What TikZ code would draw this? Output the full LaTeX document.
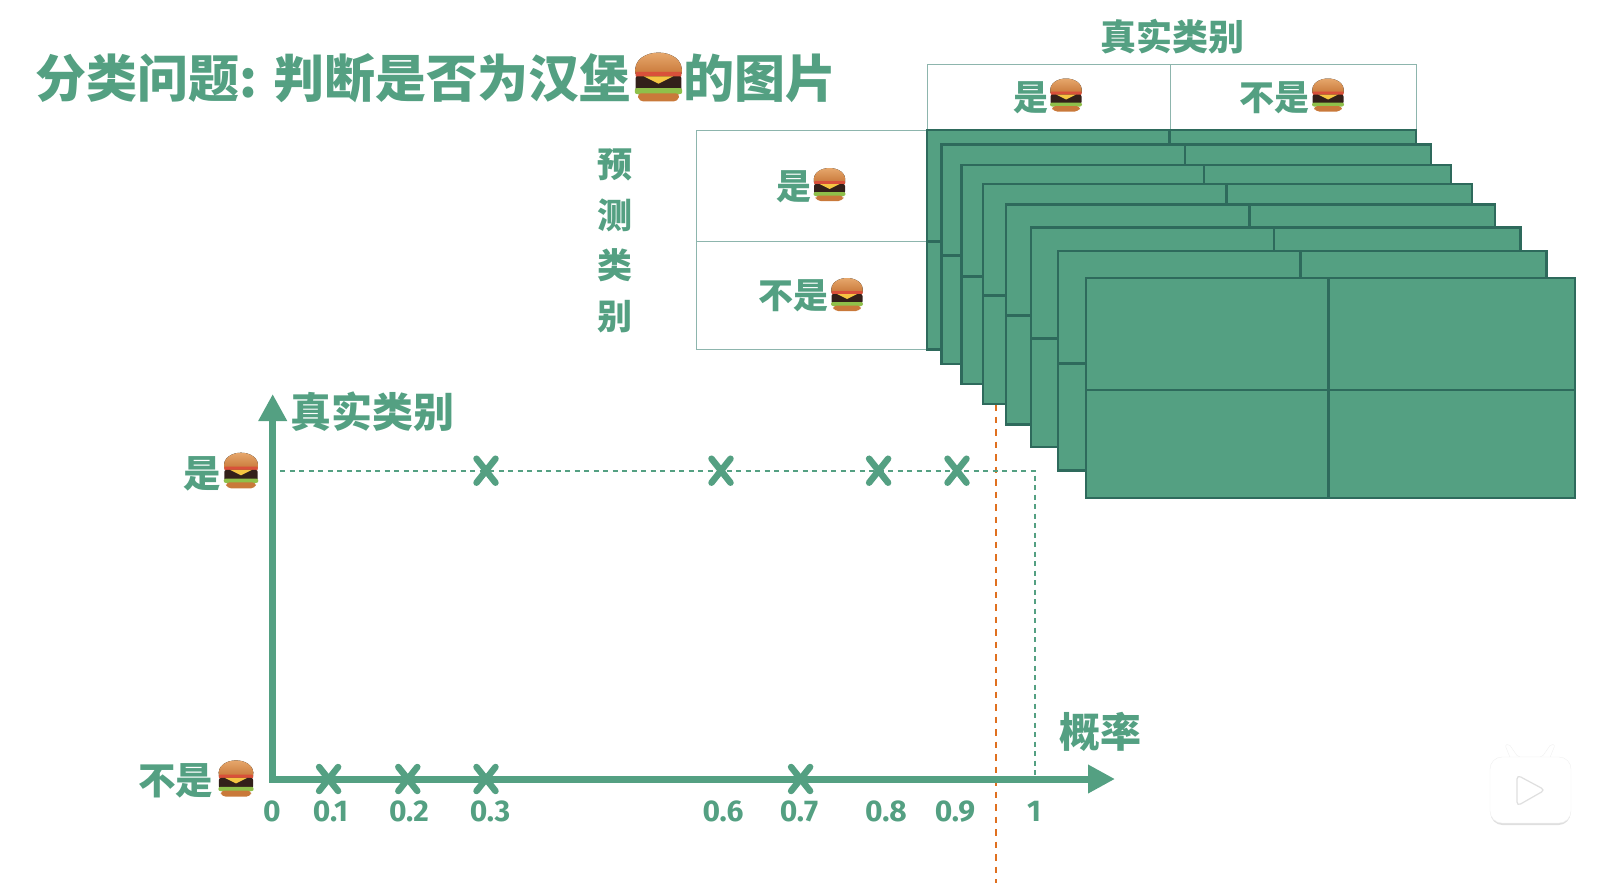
\documentclass[tikz,border=0pt]{standalone}
\usepackage{fontspec}
\setmainfont{Noto Sans CJK SC}
\newfontfamily\numfont{Fira Sans}
\usetikzlibrary{arrows.meta,positioning,calc}
\definecolor{leaf}{HTML}{54A082}
\definecolor{leafdark}{HTML}{2E6A5C}
\definecolor{gridline}{HTML}{8DB5AD}
\definecolor{cutline}{HTML}{E0701F}
\definecolor{buntop}{HTML}{E6A76C}
\definecolor{bunbase}{HTML}{C9793A}
\definecolor{tomato}{HTML}{D9503A}
\definecolor{patty}{HTML}{33201A}
\definecolor{cheese}{HTML}{F5C542}
\definecolor{salad}{HTML}{8FC04A}
\tikzset{
  title/.style={anchor=west, text=leaf, inner sep=0pt, font=\fontsize{51}{51}\selectfont\bfseries},
  head/.style={text=leaf, inner sep=0pt, font=\fontsize{36}{36}\selectfont\bfseries},
  sidehead/.style={text=leaf, inner sep=0pt, align=center, font=\fontsize{35}{50.5}\selectfont\bfseries},
  axishead/.style={text=leaf, inner sep=0pt, font=\fontsize{41}{41}\selectfont\bfseries},
  tag/.style={anchor=west, text=leaf, inner sep=0pt, font=\fontsize{35}{35}\selectfont\bfseries},
  bigtag/.style={tag, font=\fontsize{37.5}{37.5}\selectfont\bfseries},
  tick/.style={text=leaf, inner sep=0pt, font=\fontsize{30}{30}\selectfont\numfont\bfseries},
  cell/.style={draw=gridline, line width=1pt},
  panel/.style={draw=leafdark, fill=leaf, line width=2.6pt},
  panelline/.style={draw=leafdark, line width=2.6pt},
  axis/.style={draw=leaf, line width=7pt, -{Triangle[length=27pt,width=27pt]}},
  guide/.style={draw=leaf, line width=2pt, dash pattern=on 5pt off 4.5pt},
  cutoff/.style={draw=cutline, line width=2.4pt, dash pattern=on 6.5pt off 6pt},
  xmark/.pic={
    \draw[leaf, line width=6.5pt, line cap=round] (-9.5,-12)--(9.5,12) (9.5,-12)--(-9.5,12);
  },
  burger/.pic={
    \fill[top color=buntop, bottom color=bunbase] (-15.5,-2) .. controls (-17.5,-12) and (-8,-16.5) .. (0,-16.5) .. controls (8,-16.5) and (17.5,-12) .. (15.5,-2) -- cycle;
    \fill[tomato, rounded corners=1pt] (-15.5,-3.5) rectangle (15.5,0);
    \fill[patty, rounded corners=2pt] (-15.5,-0.5) rectangle (15.5,9);
    \fill[cheese] (-10,-0.5) -- (10,-0.5) -- (0,4.5) -- cycle;
    \fill[salad, rounded corners=2pt] (-16,7.5) rectangle (16,11.5);
    \fill[bunbase, rounded corners=4pt] (-14.5,11) -- (14.5,11) -- (13,16.5) -- (-13,16.5) -- cycle;
  }
}
\begin{document}
\begin{tikzpicture}[x=1pt,y=-1pt]
  \useasboundingbox (0,0) rectangle (1602,883);
  % title
  \node[title] (heading) at (35.5,78) {分类问题:\hspace{0.5pt} 判断是否为汉堡\hspace{53pt}的图片};
  \pic[scale=1.48] at (658.5,77) {burger};

  % table heads
  \node[head] (truehead) at (1172,37) {真实类别};
  \draw[cell] (927,64) rectangle (1170,130);
  \draw[cell] (1170,64) rectangle (1416,130);
  \node[tag] (headyes) at (1013,97.5) {是};
  \pic at (1066,95) {burger};
  \node[tag] (headno) at (1239,97.5) {不是};
  \pic at (1328,95) {burger};

  \node[sidehead] (predhead) at (614.5,241) {预\\测\\类\\别};
  \draw[cell] (696.5,130) rectangle (927,241.7);
  \draw[cell] (696.5,241.7) rectangle (927,349.3);
  \node[tag] (rowyes) at (776,187) {是};
  \pic at (829.5,184.5) {burger};
  \node[tag] (rowno) at (758,296) {不是};
  \pic at (847,294.5) {burger};

  % threshold line
  \coordinate (cuttop) at (996,404);
  \coordinate (cutbot) at (996,883);
  \draw[cutoff] (cuttop)--(cutbot);

  % stack of matrices
  \foreach \l/\m/\r/\t/\h/\b in {
    927/1169.6/1416/130/241.7/349.3,
    941.6/1184.8/1431/144.3/255.7/364,
    961.4/1204/1451/165/276.3/384,
    982.8/1226.5/1472/184/295.7/404,
    1006/1249.3/1495/204.7/315.7/424.3,
    1031/1274/1520.7/227.3/338.3/447,
    1058/1300.3/1546.7/251/363.3/470.7,
    1086/1328.6/1575/278/390/498}{
    \draw[panel] (\l,\t) rectangle (\r,\b);
    \draw[panelline] (\m,\t)--(\m,\b) (\l,\h)--(\r,\h);
  }

  % axes
  \coordinate (org) at (269.2,779);
  \coordinate (orgy) at (272.7,782.5);
  \coordinate (ytip) at (272.7,394);
  \coordinate (xtip) at (1115,779);
  \draw[axis] (orgy)--(ytip);
  \draw[axis] (org)--(xtip);
  \node[axishead, anchor=west] (yhead) at (290.5,412) {真实类别};
  \node[axishead, anchor=west] (xhead) at (1059.5,732) {概率};

  % guides
  \coordinate (gleft) at (280,470.7);
  \coordinate (gcorner) at (1035,470.7);
  \coordinate (gfoot) at (1035,775);
  \draw[guide] (gleft)--(gcorner)--(gfoot);

  \foreach \px in {486,721,878.6,957}{
    \pic at (\px,470.7) {xmark};
  }
  \foreach \px in {328.6,407.8,486,800.6}{
    \pic at (\px,779) {xmark};
  }

  \node[bigtag] (axisyes) at (183,473.5) {是};
  \pic[scale=1.08] at (241,470.5) {burger};
  \node[bigtag] (axisno) at (138,781) {不是};
  \pic[scale=1.1] at (236,778.5) {burger};

  \foreach \px/\val in {272/0,330.5/0.1,409/0.2,490/0.3,723/0.6,799/0.7,886/0.8,955/0.9,1034/1}{
    \node[tick] at (\px,811.5) {\val};
  }

  % player badge
  \fill[gray!25, rounded corners=12pt] (1490.5,760) rectangle (1570.5,825);
  \filldraw[white, draw=gray!12, rounded corners=2pt] (1511,760) -- (1505,745) -- (1509,744) -- (1518,757) -- (1542,757) -- (1551,744) -- (1555,745) -- (1549,760) -- cycle;
  \filldraw[white, draw=gray!12, rounded corners=12pt] (1490,757) rectangle (1571,823);
  \draw[gray!25, fill=white, line width=1.2pt, rounded corners=4pt] (1517,775) -- (1545,790) -- (1517,806) -- cycle;
\end{tikzpicture}
\end{document}
